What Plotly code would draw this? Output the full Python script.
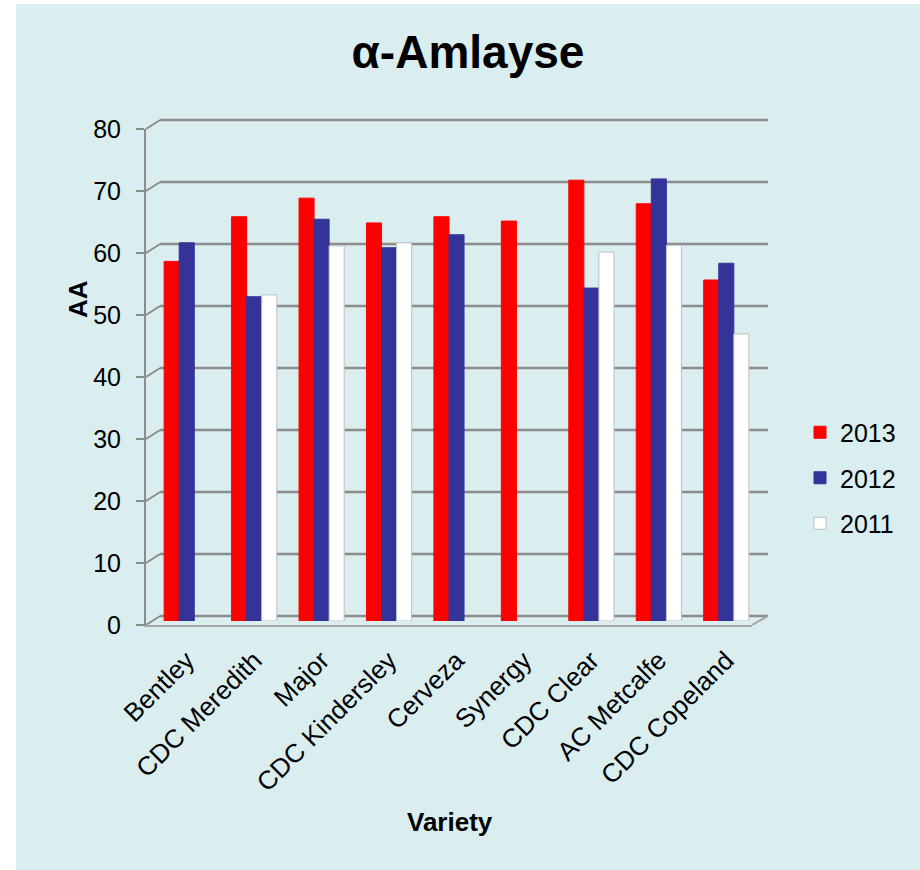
import plotly.graph_objects as go

varieties = ["Bentley", "CDC Meredith", "Major", "CDC Kindersley", "Cerveza",
             "Synergy", "CDC Clear", "AC Metcalfe", "CDC Copeland"]
aa_2013 = [58.0, 65.2, 68.2, 64.2, 65.2, 64.5, 71.1, 67.3, 55.0]
aa_2012 = [61.0, 52.3, 64.8, 60.2, 62.3, None, 53.7, 71.3, 57.7]
aa_2011 = [None, 52.6, 60.5, 61.0, None, None, 59.5, 60.6, 46.3]
y_ticks = [0, 10, 20, 30, 40, 50, 60, 70, 80]

W, H = 920, 870
L, R_EDGE, TOP, BOT = 146, 768, 118, 625   # plot area in pixels
ML, MR, MT, MB = L, W - R_EDGE, TOP, H - BOT
PW, PH = R_EDGE - L, BOT - TOP

def fx(px):
    return (px - L) / PW

def fy(py):
    return (BOT - py) / PH

FONT = "Liberation Sans, Arial, sans-serif"
GRID = "#8C8C8C"
BG = "#DAEDEF"

fig = go.Figure()
series = [("2013", aa_2013, "#FF0000", "#FF0000"),
          ("2012", aa_2012, "#333399", "#333399"),
          ("2011", aa_2011, "#FFFFFF", "#BFBFBF")]
for name, vals, col, lcol in series:
    fig.add_trace(go.Bar(
        x=varieties, y=vals, name=name, legendgroup=name,
        marker=dict(color=col, line=dict(color=lcol, width=1)),
        xaxis="x", yaxis="y"))

# invisible traces to activate back-wall and front axes
fig.add_trace(go.Scatter(x=[0], y=[0], xaxis="x2", yaxis="y2", showlegend=False,
                         mode="markers", marker=dict(opacity=0), hoverinfo="skip"))
fig.add_trace(go.Scatter(x=[0], y=[0], xaxis="x3", yaxis="y3", showlegend=False,
                         mode="markers", marker=dict(opacity=0), hoverinfo="skip"))

# pixel geometry for the pseudo-3D frame
bar_y0, bar_y80 = 621, 125
back_y0, back_y80 = 616, 120
front_y0, front_y80 = 625, 129
bar_x0, bar_x1 = 153, 760
back_x0, back_x1 = 160, 768
front_x0, front_x1 = 146, 752

shapes = [dict(type="rect", xref="paper", yref="paper",
               x0=fx(16), x1=fx(W + 5), y0=fy(H + 5), y1=fy(4),
               fillcolor=BG, line=dict(width=0), layer="below")]
for v in y_ticks:
    yf = front_y0 - (front_y0 - front_y80) * v / 80
    yb = back_y0 - (back_y0 - back_y80) * v / 80
    shapes.append(dict(type="line", xref="paper", yref="paper",
                       x0=fx(front_x0), y0=fy(yf), x1=fx(back_x0), y1=fy(yb),
                       line=dict(color=GRID, width=2), layer="below"))
    shapes.append(dict(type="line", xref="paper", yref="paper",
                       x0=fx(back_x0), y0=fy(yb), x1=fx(back_x1), y1=fy(yb),
                       line=dict(color=GRID, width=2.5), layer="below"))
shapes.append(dict(type="line", xref="paper", yref="paper",
                   x0=fx(front_x1), y0=fy(front_y0), x1=fx(back_x1), y1=fy(back_y0),
                   line=dict(color="#A6A6A6", width=2), layer="below"))
fig.update_layout(shapes=shapes)

fig.update_layout(
    width=W, height=H,
    margin=dict(l=ML, r=MR, t=MT, b=MB, autoexpand=False),
    paper_bgcolor="white", plot_bgcolor="rgba(0,0,0,0)",
    font=dict(family=FONT, color="black", size=24),
    barmode="group", bargap=0.33, bargroupgap=0,
    showlegend=True,
    title=dict(text="<b>α-Amlayse</b>", font=dict(size=46, family=FONT),
               x=468 / W, xref="container", xanchor="center",
               y=1 - 52 / H, yref="container", yanchor="middle"),
    xaxis=dict(domain=[fx(bar_x0), fx(bar_x1)], anchor="y",
               showline=False, showgrid=False, ticks="",
               tickangle=-45, tickfont=dict(size=26),
               ticklabelstandoff=18),
    yaxis=dict(domain=[fy(bar_y0), fy(bar_y80)], anchor="x", range=[0, 80],
               showgrid=False, showticklabels=False, zeroline=False, showline=False),
    xaxis2=dict(domain=[fx(back_x0), fx(back_x1)], anchor="y2", range=[0, 1],
                showgrid=False, showticklabels=False, zeroline=False, showline=False),
    yaxis2=dict(domain=[fy(back_y0), fy(back_y80)], anchor="x2", range=[0, 80],
                showgrid=False, showticklabels=False, zeroline=False, showline=False, ticks=""),
    xaxis3=dict(domain=[fx(front_x0), fx(front_x1)], anchor="y3", range=[0, 1],
                showgrid=False, showticklabels=False, zeroline=False,
                showline=True, linecolor="#A6A6A6", linewidth=2, ticks=""),
    yaxis3=dict(domain=[fy(front_y0), fy(front_y80)], anchor="x3", range=[0, 80],
                tickvals=y_ticks, showgrid=False, zeroline=False,
                showline=True, linecolor=GRID, linewidth=2,
                ticks="outside", ticklen=8, tickwidth=2, tickcolor=GRID,
                tickfont=dict(size=25), ticklabelstandoff=10),
    legend=dict(x=fx(800), xanchor="left", y=fy(478), yanchor="middle",
                font=dict(size=25), traceorder="grouped", tracegroupgap=10,
                bgcolor="rgba(0,0,0,0)", itemwidth=30),
    annotations=[
        dict(text="<b>AA</b>", xref="paper", yref="paper", x=fx(78), y=fy(299),
             textangle=-90, showarrow=False, font=dict(size=26),
             xanchor="center", yanchor="middle"),
        dict(text="<b>Variety</b>", xref="paper", yref="paper", x=fx(450), y=fy(822),
             showarrow=False, font=dict(size=26), xanchor="center", yanchor="middle"),
    ],
)

fig.write_html("out.html", config={"displayModeBar": False},
               post_script="document.body.style.margin='0';")
